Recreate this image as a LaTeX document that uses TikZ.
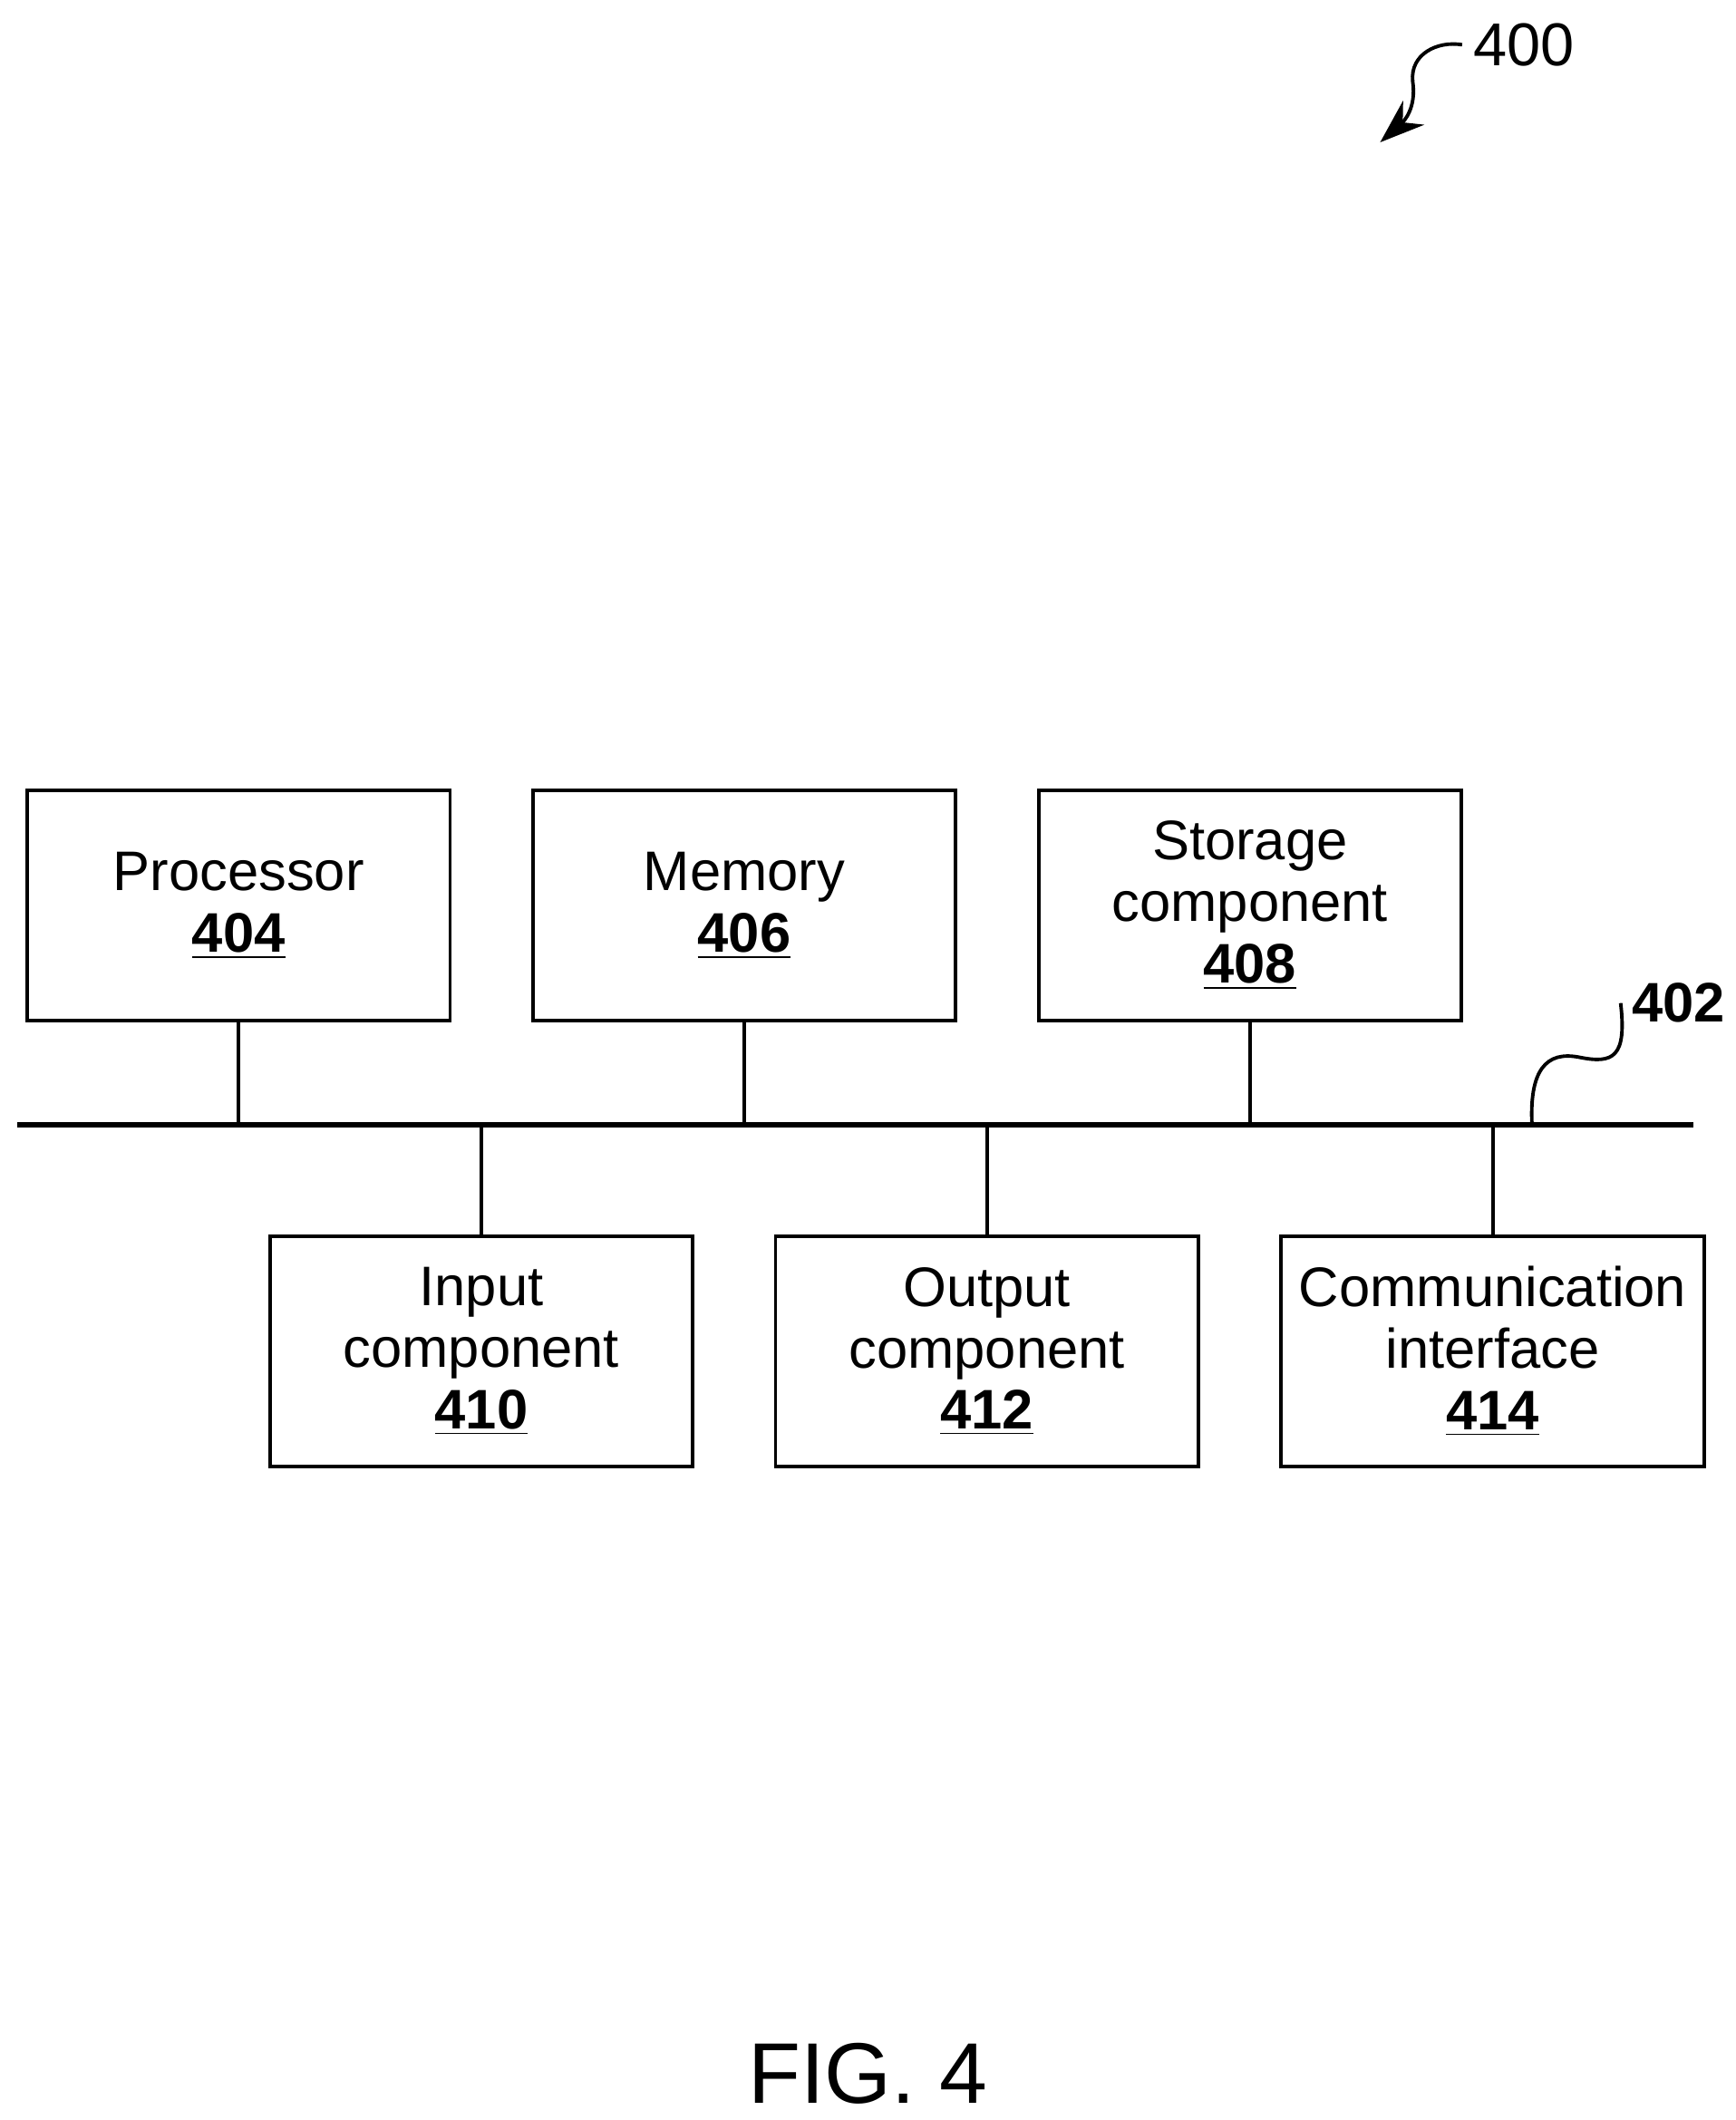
\documentclass[tikz,border=0pt]{standalone}
\usepackage{fontspec}
\setmainfont{Liberation Sans}
\usetikzlibrary{arrows.meta}
\begin{document}
\begin{tikzpicture}[x=0.01495cm,y=-0.01495cm,
  box/.style={draw,line width=1.1pt,minimum width=312*0.01495cm,minimum height=170*0.01495cm,align=center,inner sep=0pt,font=\fontsize{17.5}{19.3}\selectfont},
  ln/.style={line width=1.1pt}]
\useasboundingbox (0,0) rectangle (1280,1564);
\newcommand{\refn}[1]{\textbf{\underline{#1}}}
\node[box] (p) at (176,668) {Processor\\\refn{404}};
\node[box] (m) at (549,668) {Memory\\\refn{406}};
\node[box] (s) at (922,668) {Storage\\component\\\refn{408}};
\node[box] (i) at (355,997) {Input\\component\\\refn{410}};
\node[box] (o) at (728,997) {Output\\component\\\refn{412}};
\node[box] (c) at (1101,997) {Communication\\interface\\\refn{414}};
\coordinate (bl) at (13,830);
\coordinate (br) at (1249,830);
\draw[line width=1.8pt] (bl) -- (br);
\foreach \n in {p,m,s}{\draw[ln] (\n.south) -- (\n.south |- bl);}
\foreach \n in {i,o,c}{\draw[ln] (\n.north) -- (\n.north |- bl);}
\node[font=\fontsize{17.5}{19}\selectfont\bfseries] (l402) at (1238,740) {402};
\coordinate (b402) at (1130,830);
\draw[ln] (b402) .. controls (1128,790) and (1140,775) .. (1165,780) .. controls (1190,785) and (1200,780) .. (l402.west);
\node[font=\fontsize{19}{20}\selectfont] (l400) at (1124,33) {400};
\coordinate (a400) at (1018,105);
\draw[ln,-{Stealth[length=14pt,width=10pt]}] (l400.west) .. controls (1060,30) and (1040,40) .. (1042,60) .. controls (1045,80) and (1035,90) .. (a400);
\node[font=\fontsize{27}{28}\selectfont] (fig) at (640,1530) {FIG. 4};
\end{tikzpicture}
\end{document}
